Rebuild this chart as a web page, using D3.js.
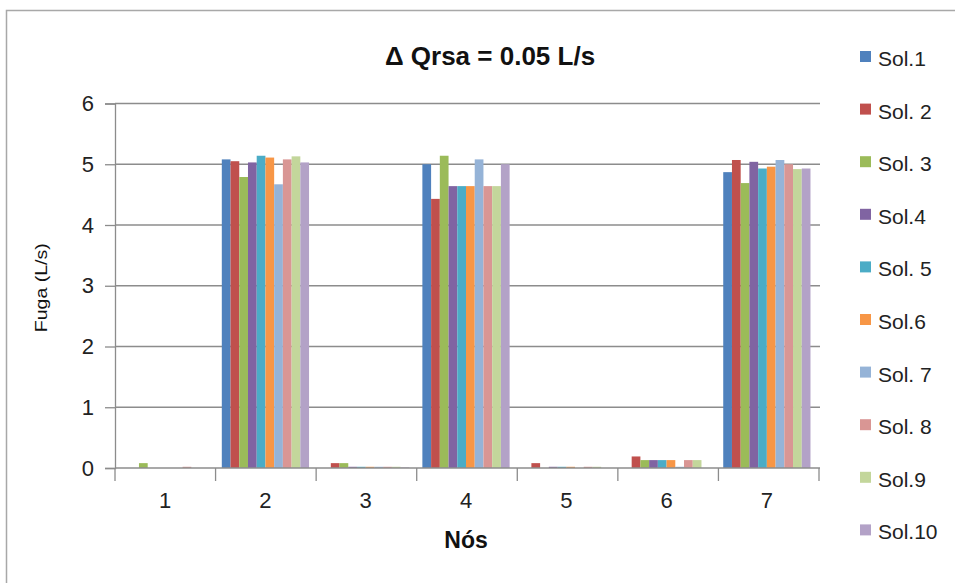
<!DOCTYPE html>
<html>
<head>
<meta charset="utf-8">
<script src="https://cdn.jsdelivr.net/npm/d3@7"></script>
<style>
  body { margin: 0; background: #fff; }
  svg { display: block; font-family: "Liberation Sans", Arial, sans-serif; }
</style>
</head>
<body>
<svg id="chart" width="955" height="583"></svg>
<script>
// nodes (x categories)
const nodes = ['1', '2', '3', '4', '5', '6', '7'];
const series = ['Sol.1', 'Sol. 2', 'Sol. 3', 'Sol.4', 'Sol. 5', 'Sol.6', 'Sol. 7', 'Sol. 8', 'Sol.9', 'Sol.10'];
const colors = ['#4F81BD', '#C0504D', '#9BBB59', '#8064A2', '#4BACC6', '#F79646', '#95B3D7', '#D99694', '#C3D69B', '#B3A2C7'];
// fuga (L/s) per solution, one entry per node
const sol1  = [0.00, 5.08, 0.00, 5.00, 0.00, 0.00, 4.87];
const sol2  = [0.00, 5.05, 0.08, 4.43, 0.08, 0.19, 5.07];
const sol3  = [0.08, 4.79, 0.08, 5.14, 0.00, 0.13, 4.69];
const sol4  = [0.00, 5.03, 0.02, 4.64, 0.02, 0.13, 5.04];
const sol5  = [0.00, 5.14, 0.02, 4.64, 0.02, 0.13, 4.93];
const sol6  = [0.00, 5.11, 0.02, 4.64, 0.02, 0.13, 4.96];
const sol7  = [0.00, 4.67, 0.02, 5.08, 0.00, 0.02, 5.07];
const sol8  = [0.02, 5.08, 0.02, 4.64, 0.02, 0.13, 5.00];
const sol9  = [0.00, 5.13, 0.02, 4.64, 0.02, 0.13, 4.92];
const sol10 = [0.00, 5.03, 0.01, 5.00, 0.00, 0.00, 4.93];
const values = [sol1, sol2, sol3, sol4, sol5, sol6, sol7, sol8, sol9, sol10];
const yTicks = [0, 1, 2, 3, 4, 5, 6];

const svg = d3.select('#chart');
const m = {left: 115, right: 817, top: 103.5, bottom: 468};
const grey = '#8c8c8c';

// chart border
svg.append('rect')
  .attr('x', 6.5).attr('y', 10.5).attr('width', 960).attr('height', 600)
  .attr('fill', '#fff').attr('stroke', '#a8a8a8').attr('stroke-width', 1.5);

const x = d3.scaleBand().domain(nodes).range([m.left, m.right]).paddingInner(0.13).paddingOuter(0.065);
const xs = d3.scaleBand().domain(d3.range(series.length)).range([0, x.bandwidth()]);
const y = d3.scaleLinear().domain([0, 6]).range([m.bottom, m.top]);

// gridlines
svg.append('g').selectAll('line').data(yTicks.filter(d => d > 0)).join('line')
  .attr('x1', m.left).attr('x2', m.right + 3)
  .attr('y1', d => y(d)).attr('y2', d => y(d))
  .attr('stroke', grey).attr('stroke-width', 1.3);

// bars
const groups = svg.append('g').selectAll('g').data(series).join('g')
  .attr('fill', (d, i) => colors[i]);
groups.selectAll('rect')
  .data((d, i) => values[i].map((v, j) => ({node: nodes[j], v, i})))
  .join('rect')
  .attr('x', d => x(d.node) + xs(d.i))
  .attr('width', xs.bandwidth())
  .attr('y', d => y(d.v))
  .attr('height', d => y(0) - y(d.v));

// y axis
const yAxis = svg.append('g').attr('transform', `translate(${m.left},0)`)
  .call(d3.axisLeft(y).tickValues(yTicks).tickFormat(d3.format('d')).tickSize(10).tickPadding(11));
yAxis.select('.domain').attr('stroke', grey).attr('stroke-width', 1.3);
yAxis.selectAll('line').attr('stroke', grey).attr('stroke-width', 1.3);
yAxis.selectAll('text').attr('font-family', 'Liberation Sans, Arial, sans-serif')
  .attr('font-size', 22).attr('fill', '#222');

// x axis
const bounds = d3.range(nodes.length + 1).map(i => m.left + i * (m.right + 2 - m.left) / nodes.length);
const xAxis = svg.append('g').attr('transform', `translate(0,${m.bottom})`);
xAxis.append('line').attr('x1', m.left).attr('x2', m.right + 3)
  .attr('stroke', grey).attr('stroke-width', 1.3);
xAxis.selectAll('line.tick').data(bounds).join('line').attr('class', 'tick')
  .attr('x1', d => d).attr('x2', d => d).attr('y1', 0).attr('y2', 13)
  .attr('stroke', grey).attr('stroke-width', 1.3);
xAxis.selectAll('text').data(nodes).join('text')
  .attr('x', d => x(d) + x.bandwidth() / 2).attr('y', 40)
  .attr('text-anchor', 'middle').attr('font-size', 22).attr('fill', '#222')
  .text(d => d);

// titles
svg.append('text')
  .attr('x', 490).attr('y', 65).attr('text-anchor', 'middle')
  .attr('font-size', 26).attr('font-weight', 'bold').attr('fill', '#111')
  .text('\u0394 Qrsa = 0.05 L/s');
svg.append('text')
  .attr('transform', `translate(47,${(m.top + m.bottom) / 2 + 2}) rotate(-90) scale(1.15,1)`)
  .attr('text-anchor', 'middle')
  .attr('font-size', 17).attr('fill', '#111')
  .text('Fuga (L/s)');
svg.append('text')
  .attr('x', 466).attr('y', 548).attr('text-anchor', 'middle')
  .attr('font-size', 23).attr('font-weight', 'bold').attr('fill', '#111')
  .text('Nós');

// legend
const legend = svg.append('g').selectAll('g').data(series).join('g')
  .attr('transform', (d, i) => `translate(860,${66 + i * 52.6})`);
legend.append('rect').attr('x', 0).attr('y', -15).attr('width', 11).attr('height', 11)
  .attr('fill', (d, i) => colors[i]);
legend.append('text')
  .attr('x', 18).attr('y', 0).attr('font-size', 21).attr('fill', '#222')
  .text(d => d);
</script>
</body>
</html>
